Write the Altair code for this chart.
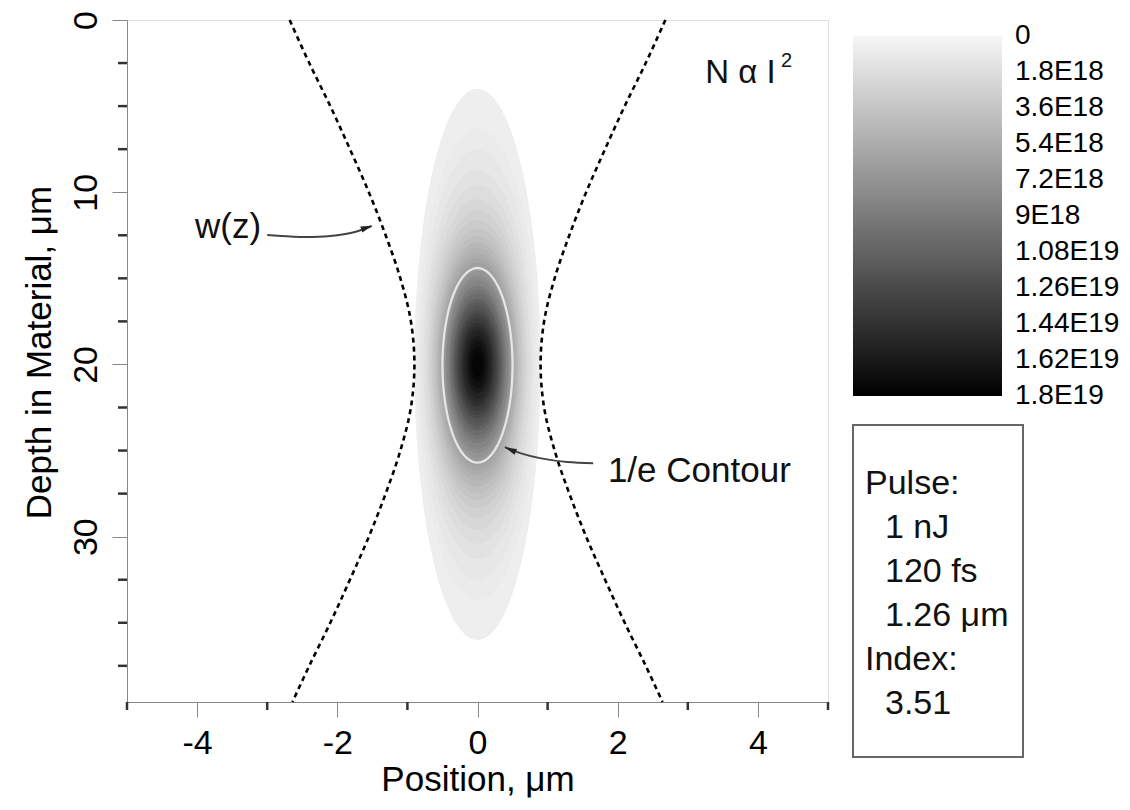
import altair as alt
import numpy as np
import pandas as pd

FONT = "Liberation Sans"

# ---------------- axes ----------------
x_domain = [-5, 5]
y_domain = [0, 39.6]
x_major = [-4, -2, 0, 2, 4]
x_minor = [-5, -3, -1, 1, 3, 5]
y_major = [0, 10, 20, 30]
y_minor = [2.5, 5, 7.5, 12.5, 15, 17.5, 22.5, 25, 27.5, 32.5, 35, 37.5]

# ---------------- dashed beam radius w(z) ----------------
wz_depth = [0, 2.5, 5, 7.5, 10, 12.5, 15, 17.5, 20, 22.5, 25, 27.5, 30, 32.5, 35, 37.5, 39.6]
wz_radius = [2.68, 2.40, 2.10, 1.82, 1.55, 1.31, 1.10, 0.95, 0.90, 0.95, 1.10, 1.31, 1.55, 1.82, 2.10, 2.40, 2.64]

# ---------------- density contour bands (fraction of peak) ----------------
peak_density = 1.8e19
focus_depth = 20.0
band_level = [0.03, 0.045, 0.06, 0.08, 0.10, 0.125, 0.15, 0.175, 0.20, 0.225,
              0.25, 0.275, 0.30, 0.325, 0.35, 0.375, 0.40, 0.43, 0.46, 0.50,
              0.53, 0.56, 0.60, 0.63, 0.66, 0.70, 0.73, 0.76, 0.80, 0.83,
              0.86, 0.90, 0.93, 0.96, 0.98]
band_halfwidth = [0.90, 0.86, 0.82, 0.78, 0.75, 0.71, 0.68, 0.65, 0.63, 0.60,
                  0.58, 0.56, 0.54, 0.52, 0.51, 0.49, 0.47, 0.45, 0.44, 0.41,
                  0.39, 0.38, 0.35, 0.34, 0.32, 0.30, 0.28, 0.26, 0.23, 0.21,
                  0.19, 0.16, 0.13, 0.10, 0.07]
band_halflength = [16.0, 13.7, 12.5, 11.3, 10.4, 9.6, 8.93, 8.37, 7.89, 7.47,
                   7.10, 6.76, 6.45, 6.17, 5.90, 5.65, 5.41, 5.14, 4.89, 4.57,
                   4.34, 4.12, 3.83, 3.62, 3.41, 3.14, 2.93, 2.72, 2.44, 2.22,
                   1.99, 1.65, 1.37, 1.02, 0.72]

# 1/e contour
contour_center = 20.05
contour_halfwidth = 0.50
contour_halflength = 5.65

legend_values = [0, 1.8e18, 3.6e18, 5.4e18, 7.2e18, 9e18, 1.08e19, 1.26e19, 1.44e19, 1.62e19, 1.8e19]

# annotation arrows (data units)
wz_arrow_x = [-3.00, -2.53, -2.10, -1.75, -1.51]
wz_arrow_d = [12.49, 12.60, 12.54, 12.31, 11.96]
ce_arrow_x = [1.65, 1.28, 0.89, 0.61, 0.39]
ce_arrow_d = [25.73, 25.67, 25.44, 25.15, 24.80]

pulse_lines = ["Pulse:", "1 nJ", "120 fs", "1.26 \u03bcm", "Index:", "3.51"]
pulse_indent = [0, 1, 1, 1, 0, 1]

W, H = 701, 682

xscale = alt.Scale(domain=x_domain, nice=False, zero=False)
yscale = alt.Scale(domain=y_domain, nice=False, zero=False, reverse=True)

xaxis = alt.Axis(values=x_major, tickSize=15, labelFontSize=34, labelPadding=9, grid=False,
                 labelExpr="'' + datum.value", labelFlush=False,
                 title="Position, \u03bcm", titleFontSize=35, titleFontWeight="normal", titleY=88,
                 titleBaseline="alphabetic")
yaxis = alt.Axis(values=y_major, tickSize=15, labelFontSize=34, labelAngle=270, grid=False,
                 labelAlign="center", labelBaseline="alphabetic", labelPadding=16,
                 labelExpr="'' + datum.value", labelFlush=False,
                 title="Depth in Material, \u03bcm", titleFontSize=35, titleFontWeight="normal",
                 titleAngle=270, titleX=-77, titleY=332, titleAlign="center",
                 titleBaseline="alphabetic")


def X(f):
    return alt.X(f, type="quantitative", scale=xscale, axis=xaxis)


def Y(f):
    return alt.Y(f, type="quantitative", scale=yscale, axis=yaxis)


# ---- bands dataframe (ellipse outlines from the read extents) ----
tt = np.linspace(0, np.pi, 91)
rows = []
for i, (c, hw, hl) in enumerate(zip(band_level, band_halfwidth, band_halflength)):
    for t in tt:
        s = hw * np.sin(t)
        rows.append({"band": f"b{i:02d}", "depth": focus_depth - hl * np.cos(t),
                     "lo": -s, "hi": s, "negN": -c * peak_density})
band_df = pd.DataFrame(rows)

eps = 2e16
neg_values = [0 if v == 0 else -v for v in legend_values]
legend = alt.Legend(orient="none", legendX=726, legendY=16, direction="vertical",
                    gradientLength=360, gradientThickness=149, title=None,
                    values=neg_values,
                    labelExpr="datum.value == 0 ? '0' : replace(format(-datum.value, '.3~e'), 'e+', 'E')",
                    labelFontSize=28, labelFont=FONT, labelOffset=13, labelOverlap=False,
                    gradientStrokeWidth=0, labelBaseline="middle", labelColor="#000000",
                    padding=0)
cscale = alt.Scale(domain=[-peak_density - eps, eps], range=["#000000", "#f6f6f6"], interpolate="rgb")

bands = alt.Chart(band_df).mark_area(orient="horizontal", strokeWidth=0).encode(
    y=Y("depth"),
    x=alt.X("lo", type="quantitative", scale=xscale, axis=xaxis, stack=None),
    x2="hi",
    color=alt.Color("negN:Q", scale=cscale, legend=legend),
    detail="band:N",
)

# ---- 1/e contour ----
ta = np.linspace(0, 2 * np.pi, 121)
ce_df = pd.DataFrame({"x": contour_halfwidth * np.sin(ta),
                      "depth": contour_center - contour_halflength * np.cos(ta),
                      "ord": np.arange(len(ta))})
contour = alt.Chart(ce_df).mark_line(color="#e6e6e6", strokeWidth=2.3).encode(
    x=X("x"), y=Y("depth"), order="ord:Q")

# ---- w(z) dashed lines ----
wz_rows = []
for d, r in zip(wz_depth, wz_radius):
    wz_rows.append({"side": "L", "depth": d, "x": -r})
    wz_rows.append({"side": "R", "depth": d, "x": r})
wz_df = pd.DataFrame(wz_rows)
wz = alt.Chart(wz_df).mark_line(color="#000000", strokeWidth=2.6, strokeDash=[5, 4],
                                interpolate="catmull-rom").encode(
    x=X("x"), y=Y("depth"), detail="side:N", order="depth:Q")

# ---- minor ticks ----
xminor = alt.Chart(pd.DataFrame({"v": x_minor})).mark_rule(color="#333333", strokeWidth=2.5).encode(
    x=X("v"), y=alt.value(H), y2=alt.value(H + 8))
yminor = alt.Chart(pd.DataFrame({"v": y_minor})).mark_rule(color="#333333", strokeWidth=2.5).encode(
    y=Y("v"), x=alt.value(0), x2=alt.value(-9))

# ---- arrows ----
arr_df = pd.DataFrame({
    "name": ["wz"] * 5 + ["ce"] * 5,
    "x": wz_arrow_x + ce_arrow_x,
    "depth": wz_arrow_d + ce_arrow_d,
    "ord": list(range(5)) * 2,
})
arrows = alt.Chart(arr_df).mark_line(color="#444444", strokeWidth=2, interpolate="catmull-rom").encode(
    x=X("x"), y=Y("depth"), detail="name:N", order="ord:Q")
head_path = "M 0 -1 L 0.55 1 L -0.55 1 Z"
head_wz = alt.Chart(pd.DataFrame({"x": [wz_arrow_x[-1] - 0.07], "depth": [wz_arrow_d[-1] + 0.1]})).mark_point(
    shape=head_path, filled=True, size=130, color="#222222", opacity=1, angle=71).encode(x=X("x"), y=Y("depth"))
head_ce = alt.Chart(pd.DataFrame({"x": [ce_arrow_x[-1] + 0.08], "depth": [ce_arrow_d[-1] + 0.15]})).mark_point(
    shape=head_path, filled=True, size=130, color="#222222", opacity=1, angle=292).encode(x=X("x"), y=Y("depth"))

# ---- text annotations in plot ----
ann_df = pd.DataFrame({"x": [-4.03, 1.86], "depth": [12.66, 26.83], "text": ["w(z)", "1/e Contour"]})
ann = alt.Chart(ann_df).mark_text(align="left", baseline="alphabetic", font=FONT, fontSize=35,
                                  color="#111111").encode(x=X("x"), y=Y("depth"), text="text:N")
nai = alt.Chart(pd.DataFrame({"x": [3.25], "depth": [3.66], "text": ["N \u03b1 I"]})).mark_text(
    align="left", baseline="alphabetic", font=FONT, fontSize=33, color="#111111").encode(
    x=X("x"), y=Y("depth"), text="text:N")
sup = alt.Chart(pd.DataFrame({"x": [4.33], "depth": [2.75], "text": ["2"]})).mark_text(
    align="left", baseline="alphabetic", font=FONT, fontSize=20, color="#111111").encode(
    x=X("x"), y=Y("depth"), text="text:N")

# ---- pulse box ----
box = alt.Chart(pd.DataFrame({"a": [1]})).mark_rect(fill="#ffffff", stroke="#666666", strokeWidth=2).encode(
    x=alt.value(726), x2=alt.value(896), y=alt.value(405), y2=alt.value(737))
pulse_df = pd.DataFrame({
    "text": pulse_lines,
    "px": [738 + 20 * k for k in pulse_indent],
    "py": [474 + 44 * i for i in range(len(pulse_lines))],
})
pulse = alt.Chart(pulse_df).mark_text(align="left", baseline="alphabetic", font=FONT, fontSize=34,
                                      color="#111111").encode(
    x=alt.X("px:Q", scale=None), y=alt.Y("py:Q", scale=None), text="text:N")

chart = alt.layer(bands, contour, wz, xminor, yminor, arrows, head_wz, head_ce, ann, nai, sup, box, pulse).properties(
    width=W, height=H,
    padding={"left": 119, "top": 12, "right": 294, "bottom": 100},
    autosize=alt.AutoSizeParams(type="none"),
).configure_view(stroke="#333333", strokeWidth=3).configure_axis(
    domainColor="#333333", domainWidth=3, tickColor="#333333", tickWidth=2.5,
    labelColor="#000000", titleColor="#000000", labelFont=FONT, titleFont=FONT,
    grid=False, titleFontWeight="normal"
).configure(background="#ffffff")

chart.save("out.html", embed_options={"renderer": "svg", "actions": False})
